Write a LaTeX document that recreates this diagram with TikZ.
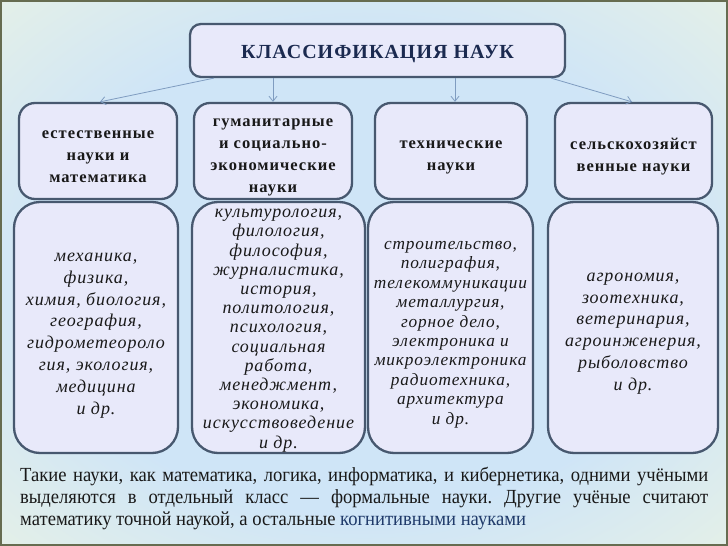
\documentclass[tikz,border=0pt]{standalone}
\usepackage{fontspec}
\setmainfont{Liberation Serif}
\newfontfamily\catfont[LetterSpace=6]{Liberation Serif}
\newfontfamily\titfont[LetterSpace=5]{Liberation Serif}
\newfontfamily\detfont[LetterSpace=5]{Liberation Serif}
\newfontfamily\botfont[FakeStretch=0.93]{Liberation Serif}
\usetikzlibrary{arrows.meta}
\definecolor{bgyellow}{HTML}{F4F8DC}
\definecolor{bgblue}{HTML}{CFE5F7}
\definecolor{boxfill}{HTML}{E8E9FA}
\definecolor{boxline}{HTML}{47586F}
\definecolor{arrcol}{HTML}{7F9CC0}
\definecolor{titcol}{HTML}{1B2A50}
\definecolor{framecol}{HTML}{666C50}
\definecolor{linkcol}{HTML}{1F3A6A}
\pgfdeclareradialshading{bgshade}{\pgfpoint{0bp}{0bp}}{color(0bp)=(bgblue); color(22bp)=(bgblue); color(46bp)=(bgyellow); color(75bp)=(bgyellow)}
\frenchspacing
\tikzset{
  basebox/.style={draw=boxline, line width=2.3pt, fill=boxfill, inner sep=0pt},
  titlebox/.style={basebox, rounded corners=11pt, minimum width=375pt, minimum height=53pt},
  tittext/.style={inner sep=0pt, font={\titfont\bfseries\fontsize{20}{22}\selectfont}, text=titcol},
  catbox/.style={basebox, rounded corners=16pt, minimum height=96pt},
  cattext/.style={inner sep=0pt, align=center, font={\catfont\bfseries\fontsize{16.5}{22}\selectfont}, text=black!90},
  detbox/.style={basebox, rounded corners=26pt, minimum height=251pt},
  dettext/.style={inner sep=0pt, align=center, font={\detfont\itshape\fontsize{18}{19.2}\selectfont}, text=black!90},
  smalldet/.style={font={\detfont\itshape\fontsize{17.3}{19.4}\selectfont}},
  bigdet/.style={font={\detfont\itshape\fontsize{18}{21.8}\selectfont}},
  arr/.style={draw=arrcol, line width=0.8pt, -{Straight Barb[length=5pt,width=8pt]}}
}
\begin{document}
\begin{tikzpicture}[x=1pt,y=-1pt]
\useasboundingbox (0,0) rectangle (728,546);
\shade[shading=bgshade] (0,0) rectangle (728,546);
\draw[framecol, line width=2pt] (1,1) rectangle (727,545);

\node[titlebox] (title) at (377.5,50.5) {};
\node[tittext] (titlet) at ([yshift=-4pt]title.center) {КЛАССИФИКАЦИЯ НАУК};

\node[catbox, minimum width=158pt] (c1) at (98,151) {};
\node[catbox, minimum width=158pt] (c2) at (273,151) {};
\node[catbox, minimum width=152pt] (c3) at (451,151) {};
\node[catbox, minimum width=157pt] (c4) at (633.5,151) {};
\node[cattext] (c1t) at ([yshift=-6pt]c1.center) {естественные\\науки и\\математика};
\node[cattext] (c2t) at ([yshift=-6.5pt]c2.center) {гуманитарные\\и социально-\\экономические\\науки};
\node[cattext] (c3t) at ([yshift=-6pt]c3.center) {технические\\науки};
\node[cattext] (c4t) at ([yshift=-6pt]c4.center) {сельскохозяйст\\венные науки};

\node[detbox, minimum width=164pt] (d1) at (96,327.5) {};
\node[detbox, minimum width=173pt] (d2) at (278.5,327.5) {};
\node[detbox, minimum width=165pt] (d3) at (450.5,327.5) {};
\node[detbox, minimum width=170pt] (d4) at (633,327.5) {};
\node[dettext, bigdet] (d1t) at ([yshift=-8pt]d1.center) {механика,\\физика,\\химия, биология,\\география,\\гидрометеороло\\гия, экология,\\медицина\\и др.};
\node[dettext] (d2t) at ([yshift=-3pt]d2.center) {культурология,\\филология,\\философия,\\журналистика,\\история,\\политология,\\психология,\\социальная\\работа,\\менеджмент,\\экономика,\\искусствоведение\\и др.};
\node[dettext, smalldet] (d3t) at ([yshift=-7pt]d3.center) {строительство,\\полиграфия,\\телекоммуникации\\металлургия,\\горное дело,\\электроника и\\микроэлектроника\\радиотехника,\\архитектура\\и др.};
\node[dettext, bigdet] (d4t) at ([yshift=-6pt]d4.center) {агрономия,\\зоотехника,\\ветеринария,\\агроинженерия,\\рыболовство\\и др.};

\draw[arr] ([xshift=25pt]title.south west) -- ([xshift=2pt]c1.north);
\draw[arr] (title.south -| c2.north) -- (c2.north);
\draw[arr] ([xshift=4pt]title.south -| c3.north) -- ([xshift=4pt]c3.north);
\draw[arr] ([xshift=-15pt]title.south east) -- ([xshift=-1.5pt]c4.north);

\node[anchor=north west, inner sep=0pt, text width=688pt, align=justify,
      font={\botfont\fontsize{20}{22}\selectfont}, text=black!90] (note) at (20,467)
  {Такие науки, как математика, логика, информатика, и кибернетика, одними учёными\linebreak
   выделяются в отдельный класс — формальные науки. Другие учёные считают\linebreak
   математику точной наукой, а остальные \textcolor{linkcol}{когнитивными науками}};
\end{tikzpicture}
\end{document}
